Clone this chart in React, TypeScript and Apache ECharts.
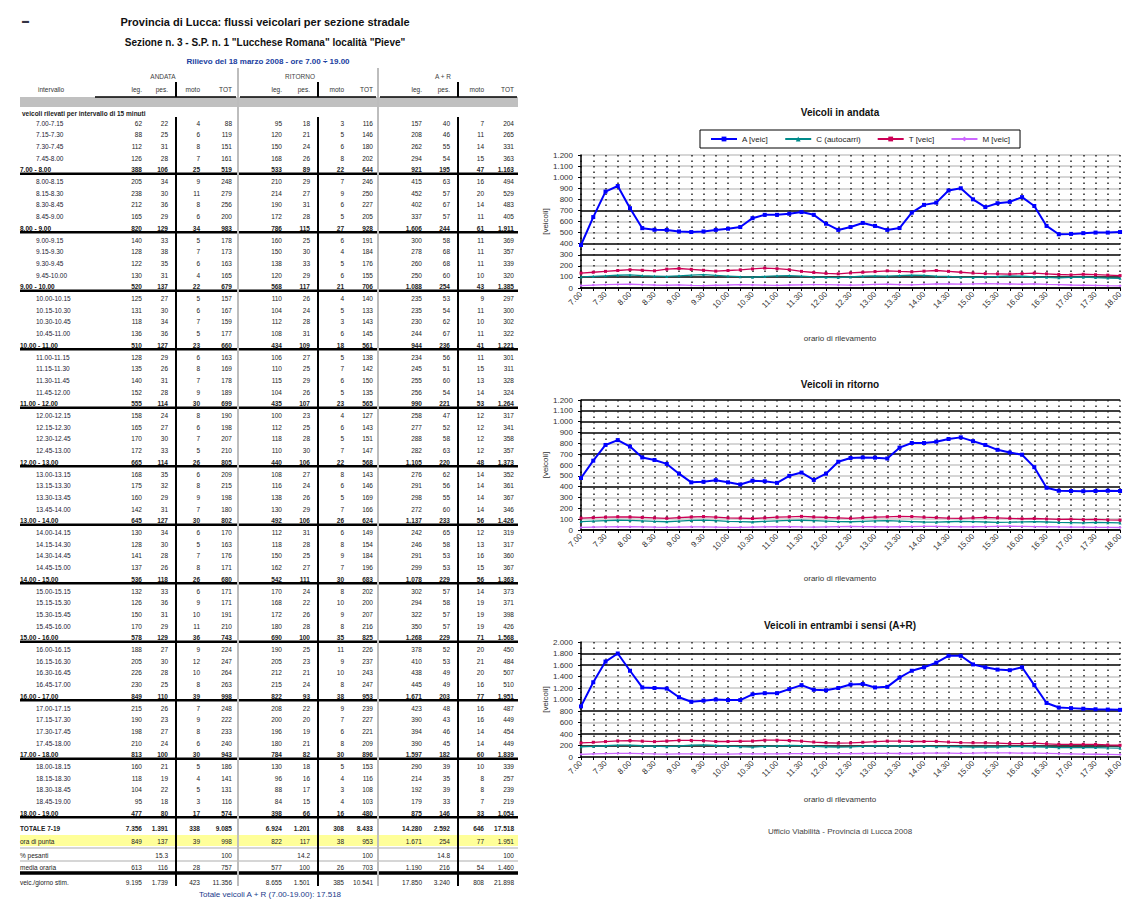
import React, { useEffect, useRef } from "react";
import * as echarts from "echarts";

const FONT = "'Liberation Sans', Arial, sans-serif";

// ---- chart data (rolling hourly volumes, veic/h) ----
const TIMES = [
  "7.00", "7.15", "7.30", "7.45", "8.00", "8.15", "8.30", "8.45", "9.00", "9.15",
  "9.30", "9.45", "10.00", "10.15", "10.30", "10.45", "11.00", "11.15", "11.30", "11.45",
  "12.00", "12.15", "12.30", "12.45", "13.00", "13.15", "13.30", "13.45", "14.00", "14.15",
  "14.30", "14.45", "15.00", "15.15", "15.30", "15.45", "16.00", "16.15", "16.30", "16.45",
  "17.00", "17.15", "17.30", "17.45", "18.00",
];
const SERIES_NAMES = ["A [veic]", "C (autocarri)", "T [veic]", "M [veic]"];

const A_ANDATA = [388, 640, 870, 920, 720, 540, 525, 524, 510, 505, 510, 524, 535, 550, 630, 660, 660, 670, 685, 660, 580, 524, 550, 587, 560, 524, 541, 680, 750, 770, 880, 900, 800, 730, 765, 777, 820, 740, 560, 485, 488, 495, 500, 500, 505];
const C_ANDATA = [100, 105, 110, 115, 118, 112, 108, 104, 110, 116, 120, 114, 108, 102, 98, 104, 110, 112, 108, 100, 96, 94, 100, 106, 110, 108, 112, 116, 114, 108, 104, 98, 95, 100, 104, 110, 106, 100, 96, 92, 95, 98, 94, 90, 88];
const T_ANDATA = [135, 142, 150, 158, 165, 160, 155, 170, 176, 168, 160, 152, 158, 164, 172, 180, 174, 165, 150, 140, 132, 128, 136, 142, 148, 155, 150, 146, 152, 158, 150, 142, 135, 130, 128, 126, 130, 134, 128, 122, 118, 124, 120, 116, 112];
const M_ANDATA = [22, 26, 30, 32, 34, 30, 27, 25, 28, 24, 22, 25, 27, 30, 28, 26, 24, 27, 29, 31, 30, 28, 26, 29, 32, 34, 31, 29, 33, 36, 38, 35, 37, 40, 38, 36, 34, 37, 33, 30, 27, 25, 23, 21, 20];

const A_RITORNO = [480, 640, 785, 830, 770, 670, 646, 610, 520, 440, 445, 460, 440, 420, 455, 450, 435, 500, 530, 462, 520, 630, 665, 670, 668, 660, 760, 803, 803, 815, 840, 855, 820, 785, 740, 715, 695, 580, 390, 362, 360, 358, 360, 362, 360];
const C_RITORNO = [78, 82, 86, 90, 88, 84, 80, 76, 82, 88, 92, 86, 80, 78, 74, 80, 84, 88, 90, 86, 82, 78, 76, 80, 84, 86, 82, 78, 74, 72, 76, 80, 78, 74, 70, 72, 75, 78, 74, 70, 68, 66, 70, 68, 65];
const T_RITORNO = [110, 114, 118, 122, 120, 116, 112, 108, 114, 120, 124, 118, 112, 110, 106, 112, 118, 122, 126, 120, 116, 112, 108, 114, 118, 122, 126, 124, 118, 114, 110, 108, 112, 116, 112, 108, 104, 106, 102, 98, 100, 96, 98, 94, 92];
const M_RITORNO = [24, 27, 29, 31, 30, 28, 26, 25, 27, 29, 28, 26, 24, 25, 27, 29, 31, 30, 28, 27, 29, 31, 33, 32, 30, 28, 30, 32, 34, 33, 31, 29, 30, 32, 34, 35, 33, 31, 30, 28, 27, 26, 25, 24, 23];

const A_ENTRAMBI = [880, 1300, 1660, 1800, 1500, 1210, 1200, 1190, 1040, 960, 980, 1000, 990, 990, 1090, 1110, 1110, 1180, 1250, 1170, 1160, 1200, 1260, 1270, 1210, 1220, 1380, 1500, 1560, 1640, 1760, 1760, 1610, 1560, 1520, 1510, 1560, 1250, 940, 860, 850, 840, 830, 825, 820];
const C_ENTRAMBI = [178, 186, 196, 205, 206, 196, 188, 180, 192, 204, 212, 200, 188, 180, 172, 184, 194, 200, 198, 186, 178, 172, 176, 186, 194, 194, 194, 194, 188, 180, 180, 178, 173, 174, 174, 182, 181, 178, 170, 162, 163, 164, 164, 158, 153];
const T_ENTRAMBI = [245, 256, 268, 280, 285, 276, 267, 278, 290, 288, 284, 270, 270, 274, 278, 292, 292, 287, 276, 260, 248, 240, 244, 256, 266, 277, 276, 270, 270, 272, 260, 250, 247, 246, 240, 234, 234, 240, 230, 220, 218, 220, 218, 210, 204];
const M_ENTRAMBI = [46, 53, 59, 63, 64, 58, 53, 50, 55, 53, 50, 51, 51, 55, 55, 55, 55, 57, 57, 58, 59, 59, 59, 61, 62, 62, 61, 61, 67, 69, 69, 64, 67, 72, 72, 71, 67, 68, 63, 58, 54, 51, 48, 45, 43];

// ---- table data (15-minute counts) ----
const HOURS = [7, 8, 9, 10, 11, 12, 13, 14, 15, 16, 17, 18];
const QMIN = ["00", "15", "30", "45"];
const TABLE_COLS = ["leg.", "pes.", "moto", "TOT"];
const GROUPS = ["ANDATA", "RITORNO", "A + R"];

const L_AND = [62, 88, 112, 126, 205, 238, 212, 165, 140, 128, 122, 130, 125, 131, 118, 136, 128, 135, 140, 152, 158, 165, 170, 172, 168, 175, 160, 142, 130, 128, 141, 137, 132, 126, 150, 170, 188, 205, 226, 230, 215, 190, 198, 210, 160, 118, 104, 95];
const P_AND = [22, 25, 31, 28, 34, 30, 36, 29, 33, 38, 35, 31, 27, 30, 34, 36, 29, 26, 31, 28, 24, 27, 30, 33, 35, 32, 29, 31, 34, 30, 28, 26, 33, 36, 31, 29, 27, 30, 28, 25, 26, 23, 27, 24, 21, 19, 22, 18];
const M_AND = [4, 6, 8, 7, 9, 11, 8, 6, 5, 7, 6, 4, 5, 6, 7, 5, 6, 8, 7, 9, 8, 6, 7, 5, 6, 8, 9, 7, 6, 5, 7, 8, 6, 9, 10, 11, 9, 12, 10, 8, 7, 9, 8, 6, 5, 4, 5, 3];
const L_RIT = [95, 120, 150, 168, 210, 214, 190, 172, 160, 150, 138, 120, 110, 104, 112, 108, 106, 110, 115, 104, 100, 112, 118, 110, 108, 116, 138, 130, 112, 118, 150, 162, 170, 168, 172, 180, 190, 205, 212, 215, 208, 200, 196, 180, 130, 96, 88, 84];
const P_RIT = [18, 21, 24, 26, 29, 27, 31, 28, 25, 30, 33, 29, 26, 24, 28, 31, 27, 25, 29, 26, 23, 25, 28, 30, 27, 24, 26, 29, 31, 28, 25, 27, 24, 22, 26, 28, 25, 23, 21, 24, 22, 20, 19, 21, 18, 16, 17, 15];
const M_RIT = [3, 5, 6, 8, 7, 9, 6, 5, 6, 4, 5, 6, 4, 5, 3, 6, 5, 7, 6, 5, 4, 6, 5, 7, 8, 6, 5, 7, 6, 8, 9, 7, 8, 10, 9, 8, 11, 9, 10, 8, 9, 7, 6, 8, 5, 4, 3, 4];

const TITLE_1 = "Provincia di Lucca: flussi veicolari per sezione stradale";
const TITLE_2 = "Sezione n. 3 - S.P. n. 1 \"Lucchese Romana\" località \"Pieve\"";
const TITLE_3 = "Rilievo del 18 marzo 2008 - ore 7.00 ÷ 19.00";
const FOOTER = "Ufficio Viabilità - Provincia di Lucca 2008";

function fmt(v: number): string {
  if (v >= 1000) return Math.floor(v / 1000) + "." + String(v % 1000).padStart(3, "0");
  return String(v);
}

function buildTable(): any[] {
  const g: any[] = [];
  const txt = (x: number, y: number, s: string, o: any = {}) =>
    g.push({
      type: "text", x, y, silent: true, z: 10,
      style: {
        text: s, fontSize: o.size || 7, fontFamily: FONT, fill: o.color || "#222",
        align: o.align || "left", verticalAlign: "middle", fontWeight: o.bold ? "bold" : "normal",
      },
    });
  const line = (x1: number, y1: number, x2: number, y2: number, c: string, w: number) =>
    g.push({ type: "line", silent: true, z: 5, shape: { x1, y1, x2, y2 }, style: { stroke: c, lineWidth: w } });
  const rect = (x: number, y: number, w: number, h: number, c: string) =>
    g.push({ type: "rect", silent: true, z: 1, shape: { x, y, width: w, height: h }, style: { fill: c } });

  txt(22, 20, "▬", { size: 7, color: "#334" });
  txt(265, 22, TITLE_1, { size: 11, bold: true, align: "center", color: "#111" });
  txt(265, 42, TITLE_2, { size: 10, bold: true, align: "center", color: "#111" });
  txt(268, 61, TITLE_3, { size: 8, bold: true, align: "center", color: "#2040a0" });

  const colX = [[142, 168, 200, 232], [282, 310, 344, 373], [422, 450, 484, 514]];
  const groupMid = [163, 300, 443];
  const data = [
    [L_AND, P_AND, M_AND],
    [L_RIT, P_RIT, M_RIT],
    [L_AND.map((v, i) => v + L_RIT[i]), P_AND.map((v, i) => v + P_RIT[i]), M_AND.map((v, i) => v + M_RIT[i])],
  ];

  // header
  GROUPS.forEach((name, k) => txt(groupMid[k], 76, name, { size: 6.5, align: "center", color: "#444" }));
  txt(38, 89, "intervallo", { size: 6.5, color: "#333" });
  colX.forEach((xs) => xs.forEach((x, j) => txt(x, 89, TABLE_COLS[j], { size: 6.5, align: "right", color: "#333" })));
  rect(20, 97, 498, 10, "#c0c0c0");
  line(95, 97, 236, 97, "#000", 1.5);
  line(240, 97, 376, 97, "#000", 1.5);
  line(380, 97, 517, 97, "#000", 1.5);
  txt(22, 113, "veicoli rilevati per intervallo di 15 minuti", { size: 6.5, bold: true, color: "#222" });

  const rowH = 11.7;
  const y0 = 123;
  const hourTot: number[][][] = [[], [], []];
  HOURS.forEach((h, hi) => {
    for (let q = 0; q < 4; q++) {
      const qi = hi * 4 + q;
      const y = y0 + (hi * 5 + q) * rowH;
      const end = q === 3 ? `${h + 1}.00` : `${h}.${QMIN[q + 1]}`;
      txt(36, y, `${h}.${QMIN[q]}-${end}`, { size: 6.5, color: "#223" });
      data.forEach((grp, k) => {
        const vals = [grp[0][qi], grp[1][qi], grp[2][qi]];
        const tot = vals[0] + vals[1] + vals[2];
        [...vals, tot].forEach((v, j) => txt(colX[k][j], y, fmt(v), { size: 6.5, align: "right" }));
      });
    }
    const y = y0 + (hi * 5 + 4) * rowH;
    txt(20, y, `${h}.00 - ${h + 1}.00`, { size: 6.5, bold: true, color: "#111" });
    data.forEach((grp, k) => {
      const s = grp.map((arr) => arr.slice(hi * 4, hi * 4 + 4).reduce((a, b) => a + b, 0));
      const tot = s[0] + s[1] + s[2];
      hourTot[k].push([...s, tot]);
      [...s, tot].forEach((v, j) => txt(colX[k][j], y, fmt(v), { size: 6.5, align: "right", bold: true }));
    });
    line(20, y + 4, 518, y + 4, "#000", 2.5);
  });

  // bottom summary rows
  const yT = 828, yP = 841, yPc = 855, yM = 867, yL = 882;
  rect(20, 835, 498, 11, "#ffff99");
  line(20, 848, 518, 848, "#c8c8c8", 1.5);
  line(20, 861, 518, 861, "#c8c8c8", 1.5);
  line(20, 873, 518, 873, "#000", 3.5);
  txt(20, yT, "TOTALE 7-19", { size: 6.5, bold: true });
  txt(20, yP, "ora di punta", { size: 6.5 });
  txt(20, yPc, "% pesanti", { size: 6.5 });
  txt(20, yM, "media oraria", { size: 6.5 });
  txt(20, yL, "veic./giorno stim.", { size: 6.5 });
  data.forEach((grp, k) => {
    const s = grp.map((arr) => arr.reduce((a, b) => a + b, 0));
    const tot = s[0] + s[1] + s[2];
    const all = [...s, tot];
    all.forEach((v, j) => txt(colX[k][j], yT, fmt(v), { size: 6.5, align: "right", bold: true }));
    all.forEach((_, j) => {
      const mx = Math.max(...hourTot[k].map((r) => r[j]));
      txt(colX[k][j], yP, fmt(mx), { size: 6.5, align: "right" });
    });
    txt(colX[k][1], yPc, ((s[1] / tot) * 100).toFixed(1), { size: 6.5, align: "right" });
    txt(colX[k][3], yPc, "100", { size: 6.5, align: "right" });
    all.forEach((v, j) => txt(colX[k][j], yM, fmt(Math.round(v / 12)), { size: 6.5, align: "right" }));
    all.forEach((v, j) => txt(colX[k][j], yL, fmt(Math.round(v * 1.25)), { size: 6.5, align: "right" }));
  });

  // vertical rules
  [238, 378].forEach((x) => line(x, 68, x, 886, "#bdbdbd", 2));
  [176, 318, 458].forEach((x) => {
    line(x, 82, x, 97, "#000", 2);
    line(x, 117, x, 886, "#000", 2);
  });

  const grand = data[2].map((a) => a.reduce((p, c) => p + c, 0)).reduce((p, c) => p + c, 0);
  txt(270, 894, `Totale veicoli A + R (7.00-19.00): ${fmt(grand)}`, { size: 8, align: "center", color: "#1a3a8a" });
  return g;
}

const COLORS = ["#0000ff", "#008b8b", "#cc0055", "#cc66ff"];
const SYMBOLS = ["rect", "triangle", "rect", "diamond"];

function buildOption(): any {
  const grids = [
    { left: 581, right: -15, top: 155, height: 133 },
    { left: 581, right: -15, top: 400, height: 130 },
    { left: 581, right: -15, top: 642, height: 115 },
  ];
  const K = "#000";
  const G = "#c8c8c8";
  const yCfg = [
    { max: 1200, interval: 100, colors: [K, K, G, K, K, G, G, K, G, G, G, G, G] },
    { max: 1200, interval: 100, colors: [K, G, G, G, K, G, G, K, G, K, K, K, K] },
    { max: 2000, interval: 200, colors: [G, K, K, G, K, G, G, G, K, K, G] },
  ];
  const seriesData = [
    [A_ANDATA, C_ANDATA, T_ANDATA, M_ANDATA],
    [A_RITORNO, C_RITORNO, T_RITORNO, M_RITORNO],
    [A_ENTRAMBI, C_ENTRAMBI, T_ENTRAMBI, M_ENTRAMBI],
  ];
  const titles = ["Veicoli in andata", "Veicoli in ritorno", "Veicoli in entrambi i sensi (A+R)"];
  const titleY = [112, 384, 625];
  const xNameY = [338, 578, 799];

  const graphic: any[] = buildTable();
  titles.forEach((t, k) => {
    graphic.push({ type: "text", x: 840, y: titleY[k], silent: true, style: { text: t, fontSize: 10, fontWeight: "bold", fontFamily: FONT, fill: "#111", align: "center", verticalAlign: "middle" } });
    graphic.push({ type: "text", x: 840, y: xNameY[k], silent: true, style: { text: "orario di rilevamento", fontSize: 8, fontFamily: FONT, fill: "#333", align: "center", verticalAlign: "middle" } });
  });
  graphic.push({ type: "text", x: 840, y: 831, silent: true, style: { text: FOOTER, fontSize: 8, fontFamily: FONT, fill: "#444", align: "center", verticalAlign: "middle" } });

  return {
    animation: false,
    backgroundColor: "#fff",
    textStyle: { fontFamily: FONT },
    legend: {
      data: SERIES_NAMES, left: 700, top: 130, width: 330, orient: "horizontal",
      itemWidth: 26, itemHeight: 6, itemGap: 16,
      borderColor: "#000", borderWidth: 1, padding: [5, 10],
      textStyle: { fontSize: 8, color: "#222" },
    },
    grid: grids,
    xAxis: grids.map((_, k) => ({
      gridIndex: k, type: "category", data: TIMES, boundaryGap: false,
      axisLine: { lineStyle: { color: "#000", width: 1.5 } },
      axisTick: { show: true, interval: 0, length: 3, lineStyle: { color: "#000" } },
      axisLabel: { rotate: 45, fontSize: 8, interval: 1, color: "#333", margin: 5 },
      splitLine: { show: true, interval: 0, lineStyle: { color: "#222", type: [1.5, 4], width: 1.5 } },
    })),
    yAxis: yCfg.map((c, k) => ({
      gridIndex: k, type: "value", min: 0, max: c.max, interval: c.interval,
      name: "[veicoli]", nameLocation: "middle", nameGap: 30, nameRotate: 90,
      nameTextStyle: { fontSize: 8, color: "#333" },
      axisLine: { show: true, lineStyle: { color: "#000", width: 1.5 } },
      axisTick: { show: true, length: 3 },
      axisLabel: { fontSize: 8, color: "#333", formatter: (v: number) => fmt(v) },
      splitLine: { show: true, lineStyle: { color: c.colors, width: 1.5 } },
    })),
    series: seriesData.flatMap((arrs, k) =>
      arrs.map((d, j) => ({
        name: SERIES_NAMES[j], type: "line", xAxisIndex: k, yAxisIndex: k, data: d,
        symbol: SYMBOLS[j], symbolSize: j === 0 ? 4 : 3, showSymbol: true,
        lineStyle: { color: COLORS[j], width: j === 0 ? 2 : 1.3 },
        itemStyle: { color: COLORS[j] },
        z: j === 0 ? 5 : 3,
      }))
    ),
    graphic,
  };
}

export default function App() {
  const ref = useRef<HTMLDivElement>(null);
  useEffect(() => {
    if (!ref.current) return;
    const chart = echarts.init(ref.current, null, { renderer: "svg" });
    chart.setOption(buildOption());
    return () => chart.dispose();
  }, []);
  return (
    <div
      ref={ref}
      style={{ position: "fixed", left: 0, top: 0, width: 1125, height: 900, background: "#fff" }}
    />
  );
}
